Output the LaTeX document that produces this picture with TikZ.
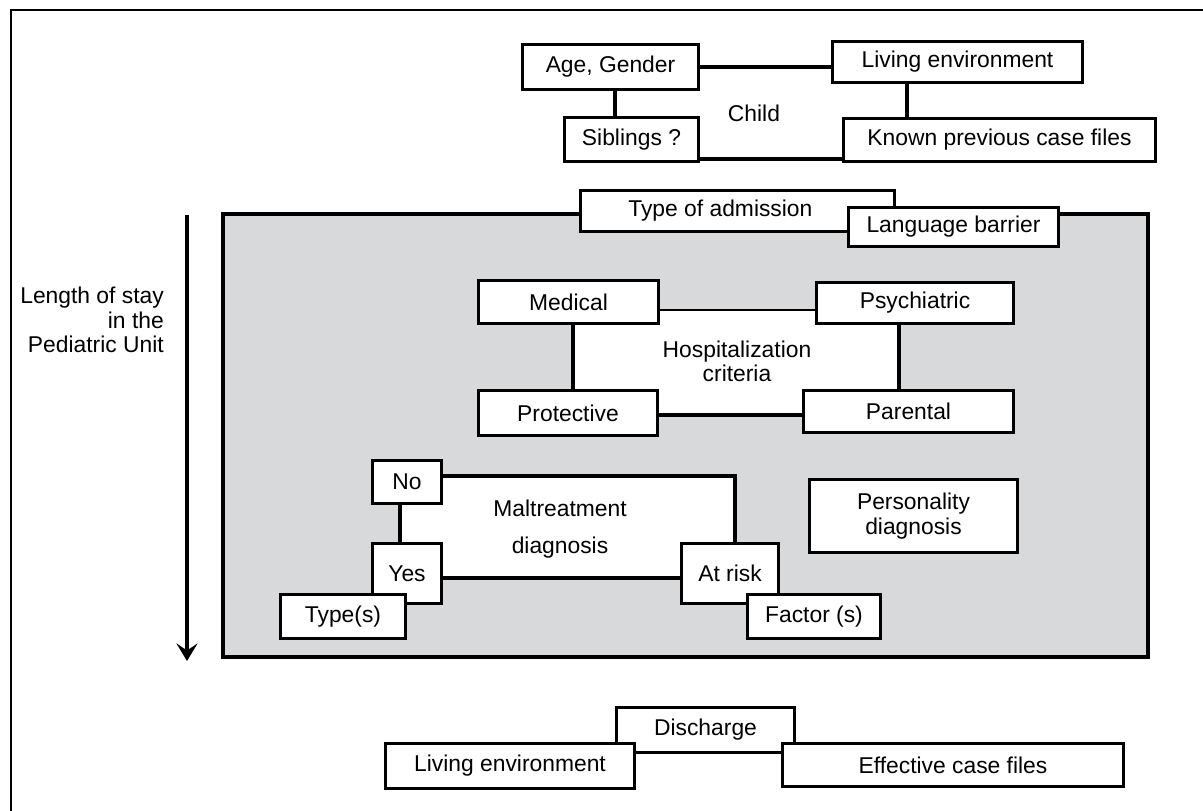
\documentclass[tikz,border=0pt]{standalone}
\usepackage{fontspec}
\setmainfont{Liberation Sans}
\usetikzlibrary{arrows.meta}
\definecolor{panelgray}{RGB}{216,217,219}

\begin{document}
\begin{tikzpicture}[x=0.02cm, y=-0.02cm,
  box/.style={draw, line width=2pt, fill=white, inner sep=0pt, align=center, font=\fontsize{13}{14}\selectfont},
  note/.style={align=center, font=\fontsize{13}{14}\selectfont},
  link/.style={line width=1.8pt},
  thinlink/.style={line width=0.75pt},
  staysign/.style={line width=2.2pt, -{Stealth[length=10pt, width=12pt, inset=4pt]}}
]
\useasboundingbox (0,0) rectangle (1203,811);
% frame
\draw[line width=1.1pt] (11,811) -- (11,10) -- (1203,10);

% child
\node[box, minimum width=3.52cm, minimum height=0.9cm] (age) at (610.5,67) {Age, Gender};
\node[box, minimum width=5.0cm, minimum height=0.82cm] (living) at (957.5,62) {Living environment};
\node[box, minimum width=2.68cm, minimum height=0.88cm] (sib) at (631.5,139.5) {Siblings ?};
\node[box, minimum width=6.24cm, minimum height=0.86cm] (known) at (999.5,140) {Known previous case files};
\node[note] (child) at (754,113) {Child};
\coordinate (agesib) at (615,0);
\coordinate (livknown) at (907,0);
\coordinate (sibknown) at (0,159);
\draw[link] (age.east) -- (age.east -| living.west);
\draw[link] (age.south -| agesib) -- (sib.north -| agesib);
\draw[link] (living.south -| livknown) -- (known.north -| livknown);
\draw[link] (sib.east |- sibknown) -- (known.west |- sibknown);

% stay in the unit
\draw[line width=1.8pt, fill=panelgray] (223,214) rectangle (1148,657);
\node[box, minimum width=6.28cm, minimum height=0.82cm] (admission) at (737.5,211) {Type of admission\hspace*{1.5em}};
\node[box, minimum width=4.2cm, minimum height=0.78cm] (language) at (953.5,227) {Language barrier};
\node[note, align=right, anchor=east] (staytext) at (170,320) {Length of stay\\in the\\Pediatric Unit};
\coordinate (staytop) at (187,215);
\coordinate (staybottom) at (187,661);
\draw[staysign] (staytop) -- (staybottom);

% hospitalization
\coordinate (hospW) at (573,0);
\coordinate (hospE) at (899,0);
\coordinate (hospN) at (0,310);
\coordinate (hospS) at (0,415);
\fill[white] (hospW |- hospN) rectangle (hospE |- hospS);
\node[box, minimum width=3.6cm, minimum height=0.86cm] (medical) at (568.5,302) {Medical};
\node[box, minimum width=3.94cm, minimum height=0.82cm] (psych) at (915,303) {Psychiatric};
\node[box, minimum width=3.58cm, minimum height=0.9cm] (protect) at (568,413) {Protective};
\node[box, minimum width=4.2cm, minimum height=0.84cm] (parental) at (908.5,411.5) {Parental};
\node[note] (hosp) at (737,361.5) {Hospitalization\\criteria};
\draw[thinlink] (medical.east |- hospN) -- (psych.west |- hospN);
\draw[link] (medical.south -| hospW) -- (protect.north -| hospW);
\draw[link] (psych.south -| hospE) -- (parental.north -| hospE);
\draw[link] (protect.east |- hospS) -- (parental.west |- hospS);

% maltreatment
\coordinate (maltW) at (400,0);
\coordinate (maltE) at (735,0);
\coordinate (maltN) at (0,476);
\coordinate (maltS) at (0,578);
\fill[white] (maltW |- maltN) rectangle (maltE |- maltS);
\node[box, minimum width=1.38cm, minimum height=0.86cm] (no) at (407,482) {No};
\node[box, minimum width=1.38cm, minimum height=1.2cm] (yes) at (407,573.5) {Yes};
\node[box, minimum width=2.5cm, minimum height=0.88cm] (types) at (343,616.5) {Type(s)};
\node[box, minimum width=1.94cm, minimum height=1.2cm] (atrisk) at (730,573.5) {At risk};
\node[box, minimum width=2.66cm, minimum height=0.88cm] (factor) at (814,616.5) {Factor (s)};
\node[note] (malt) at (560,529.5) {Maltreatment\\[7pt]diagnosis};
\node[box, minimum width=4.16cm, minimum height=1.46cm] (personality) at (913.5,516) {Personality\\diagnosis};
\draw[link] (no.east |- maltN) -| (atrisk.north -| maltE);
\draw[link] (no.south -| maltW) -- (yes.north -| maltW);
\draw[link] (yes.east |- maltS) -- (atrisk.west |- maltS);

% discharge
\node[box, minimum width=3.56cm, minimum height=0.9cm] (discharge) at (705.5,730) {Discharge};
\node[box, minimum width=4.98cm, minimum height=0.9cm] (livingout) at (510,766) {Living environment};
\node[box, minimum width=6.82cm, minimum height=0.86cm] (effective) at (953,765) {Effective case files};
\end{tikzpicture}
\end{document}
